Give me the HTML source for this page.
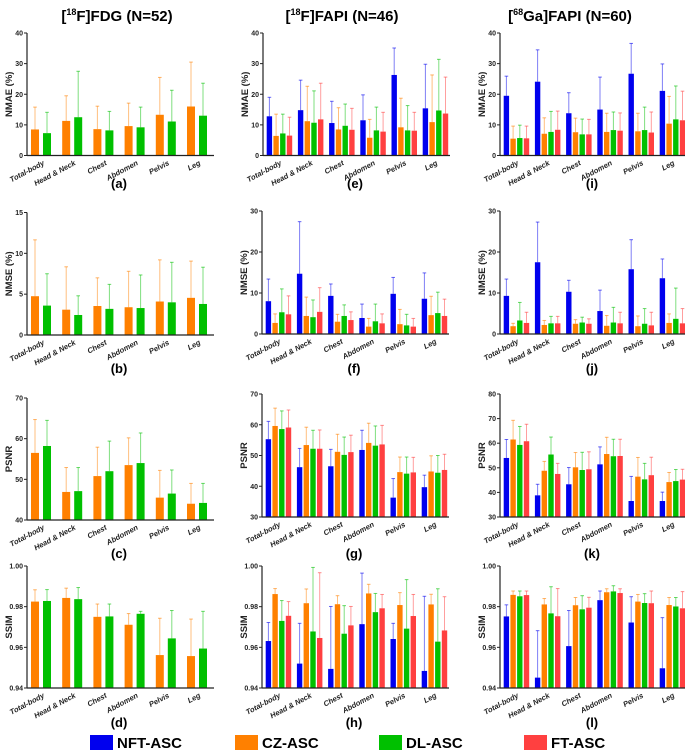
<!DOCTYPE html>
<html><head><meta charset="utf-8">
<style>
body{margin:0;background:#fff;}
svg{display:block;font-family:"Liberation Sans",Arial,sans-serif;}
</style></head>
<body>
<svg id="fig" width="685" height="751" viewBox="0 0 685 751" xmlns="http://www.w3.org/2000/svg">
<text x="117" y="21" text-anchor="middle" font-size="15" font-weight="bold">[<tspan font-size="9" dy="-6">18</tspan><tspan dy="6">F]FDG (N=52)</tspan></text>
<text x="342" y="21" text-anchor="middle" font-size="15" font-weight="bold">[<tspan font-size="9" dy="-6">18</tspan><tspan dy="6">F]FAPI (N=46)</tspan></text>
<text x="570" y="21" text-anchor="middle" font-size="15" font-weight="bold">[<tspan font-size="9" dy="-6">68</tspan><tspan dy="6">Ga]FAPI (N=60)</tspan></text>
<g>
<rect x="90" y="735" width="23" height="15" fill="#0000ee"/>
<text x="117" y="748" font-size="15" font-weight="bold">NFT-ASC</text>
<rect x="235" y="735" width="23" height="15" fill="#ff8000"/>
<text x="262" y="748" font-size="15" font-weight="bold">CZ-ASC</text>
<rect x="379" y="735" width="23" height="15" fill="#00c000"/>
<text x="406" y="748" font-size="15" font-weight="bold">DL-ASC</text>
<rect x="524" y="735" width="23" height="15" fill="#ff4040"/>
<text x="551" y="748" font-size="15" font-weight="bold">FT-ASC</text>
</g>
</svg>
<script>
const categories = ["Total-body","Head & Neck","Chest","Abdomen","Pelvis","Leg"];
const seriesColors = {nft:"#0000ee", cz:"#ff8000", dl:"#00c000", ft:"#ff4040"};
// values per panel: arrays in series order; each array of 6 (means) and matching error tops
const aCz=[8.5,11.3,8.6,9.6,13.3,16.0], aCzE=[15.8,19.5,16.1,17.1,25.5,30.5];
const aDl=[7.3,12.5,8.2,9.2,11.1,13.0], aDlE=[14.1,27.5,14.4,15.8,21.3,23.6];
const eNft=[12.8,14.8,10.6,11.5,26.3,15.4], eNftE=[19,24.6,17.7,19.8,35.1,29.8];
const eCz=[6.4,11.2,8.5,5.8,9.2,10.9], eCzE=[13.5,22.6,15.6,11.8,18.7,26.3];
const eDl=[7.2,10.7,9.7,8.2,8.2,14.7], eDlE=[13.5,21.1,16.8,15.8,16.3,31.4];
const eFt=[6.5,11.8,8.4,7.8,8.1,13.7], eFtE=[12.5,23.6,15.4,14.1,14.1,25.6];
const iNft=[19.5,24.1,13.8,15.0,26.7,21.1], iNftE=[25.9,34.5,20.5,25.6,36.6,29.9];
const iCz=[5.5,7.1,7.6,7.7,7.9,10.4], iCzE=[9.6,12.3,12.2,13.8,13.8,19.3];
const iDl=[5.7,7.7,6.9,8.3,8.3,11.8], iDlE=[9.9,14.4,11.9,14.2,15.8,22.7];
const iFt=[5.6,8.4,6.9,8.1,7.5,11.5], iFtE=[9.6,14.5,11.8,13.9,14.2,21.0];
const bCz=[4.75,3.1,3.55,3.4,4.1,4.55], bCzE=[11.65,8.35,7.0,7.8,9.2,9.05];
const bDl=[3.6,2.45,3.2,3.3,4.0,3.8], bDlE=[7.5,4.8,6.2,7.35,8.9,8.3];
const fNft=[8.0,14.7,9.3,3.9,9.8,8.6], fNftE=[13.4,27.4,12.2,7.3,13.8,14.9];
const fCz=[2.7,4.4,3.0,1.8,2.4,4.6], fCzE=[4.9,9.0,4.8,3.8,6.0,9.2];
const fDl=[5.3,4.1,4.4,3.1,2.1,5.1], fDlE=[11.0,8.3,7.1,7.3,4.8,10.2];
const fFt=[4.8,5.4,3.4,2.6,1.8,4.4], fFtE=[9.3,11.3,5.4,4.9,3.8,8.5];
const jNft=[9.3,17.5,10.3,5.6,15.8,13.6], jNftE=[13.4,27.3,13.1,10.7,23.0,18.3];
const jCz=[1.9,2.2,2.5,2.0,1.9,2.7], jCzE=[2.6,3.3,3.5,4.5,4.4,4.9];
const jDl=[3.3,2.6,2.8,2.8,2.5,3.7], jDlE=[7.7,4.3,4.1,6.5,6.2,11.2];
const jFt=[2.7,2.6,2.5,2.6,2.1,2.6], jFtE=[5.3,4.3,3.7,5.3,5.3,6.2];
const cCz=[56.5,46.9,50.8,53.5,45.5,44.0], cCzE=[64.7,52.9,57.9,60.2,52.2,49.0];
const cDl=[58.2,47.1,52.0,54.0,46.5,44.2], cDlE=[64.5,52.9,59.4,61.4,52.3,49.0];
const gNft=[55.3,46.2,46.5,51.8,36.3,39.7], gNftE=[61.1,52.3,52.0,58.2,42.5,43.6];
const gCz=[59.6,53.4,51.2,54.1,44.6,44.8], gCzE=[65.4,59.2,56.9,60.5,49.5,49.9];
const gDl=[58.6,52.2,50.2,53.2,44.1,44.4], gDlE=[64.5,58.2,56.0,59.6,49.5,50.0];
const gFt=[59.1,52.2,51.1,53.6,44.5,45.3], gFtE=[64.8,58.3,56.6,59.8,49.4,50.4];
const kNft=[54.0,38.8,43.3,51.4,36.5,36.5], kNftE=[61.5,43.3,50.1,58.5,46.5,40.1];
const kCz=[61.5,48.8,50.2,55.6,46.4,44.2], kCzE=[69.3,52.6,56.2,62.4,54.2,48.1];
const kDl=[59.3,55.4,49.1,54.7,45.3,44.6], kDlE=[66.8,62.5,56.3,61.6,51.8,49.3];
const kFt=[60.8,47.5,49.4,54.8,47.0,45.2], kFtE=[67.7,51.8,56.5,61.6,54.3,49.4];
const dCz=[0.9825,0.9843,0.9750,0.9711,0.9562,0.9557], dCzE=[0.9883,0.9891,0.9813,0.9766,0.9743,0.9739];
const dDl=[0.9828,0.9837,0.9752,0.9765,0.9644,0.9594], dDlE=[0.9884,0.9894,0.9813,0.9777,0.9781,0.9777];
const hNft=[0.9631,0.9520,0.9494,0.9714,0.9641,0.9484], hNftE=[0.9722,0.9718,0.9801,0.9965,0.9718,0.9851];
const hCz=[0.9862,0.9817,0.9812,0.9865,0.9808,0.9811], hCzE=[0.9889,0.9887,0.9854,0.9910,0.9869,0.9861];
const hDl=[0.9730,0.9678,0.9667,0.9773,0.9692,0.9628], hDlE=[0.9830,0.9993,0.9805,0.9865,0.9933,0.9888];
const hFt=[0.9755,0.9646,0.9708,0.9792,0.9754,0.9683], hFtE=[0.9825,0.9967,0.9801,0.9860,0.9860,0.9849];
const lNft=[0.9752,0.9451,0.9606,0.9832,0.9722,0.9497], lNftE=[0.9809,0.9682,0.9781,0.9877,0.9849,0.9746];
const lCz=[0.9858,0.9811,0.9807,0.9871,0.9825,0.9808], lCzE=[0.9877,0.9840,0.9845,0.9888,0.9860,0.9845];
const lDl=[0.9851,0.9767,0.9787,0.9875,0.9818,0.9801], lDlE=[0.9877,0.9898,0.9854,0.9903,0.9864,0.9845];
const lFt=[0.9857,0.9753,0.9795,0.9867,0.9817,0.9792], lFtE=[0.9877,0.9889,0.9846,0.9888,0.9877,0.9874];
const ticks40=["0","10","20","30","40"], ticks15=["0","5","10","15"], ticks30=["0","10","20","30"];
const ticksC=["40","50","60","70"], ticksG=["30","40","50","60","70"], ticksK=["30","40","50","60","70","80"];
const ticksS=["0.94","0.96","0.98","1.00"];

const NS="http://www.w3.org/2000/svg";
const svg=document.getElementById('fig');
function mk(tag,attrs,parent){const e=document.createElementNS(NS,tag);for(const k in attrs)e.setAttribute(k,attrs[k]);(parent||svg).appendChild(e);return e;}

const panels=[
 {id:"a",x0:27,top:33,bot:155.5,min:0,max:40,ticks:ticks40,lab:"NMAE (%)",ly:188,s:[["cz",aCz,aCzE],["dl",aDl,aDlE]]},
 {id:"e",x0:263,top:33,bot:155.5,min:0,max:40,ticks:ticks40,lab:"NMAE (%)",ly:188,s:[["nft",eNft,eNftE],["cz",eCz,eCzE],["dl",eDl,eDlE],["ft",eFt,eFtE]]},
 {id:"i",x0:500,top:33,bot:155.5,min:0,max:40,ticks:ticks40,lab:"NMAE (%)",ly:188,s:[["nft",iNft,iNftE],["cz",iCz,iCzE],["dl",iDl,iDlE],["ft",iFt,iFtE]]},
 {id:"b",x0:27,top:212.5,bot:335,min:0,max:15,ticks:ticks15,lab:"NMSE (%)",ly:373,s:[["cz",bCz,bCzE],["dl",bDl,bDlE]]},
 {id:"f",x0:262,top:211,bot:334,min:0,max:30,ticks:ticks30,lab:"NMSE (%)",ly:373,s:[["nft",fNft,fNftE],["cz",fCz,fCzE],["dl",fDl,fDlE],["ft",fFt,fFtE]]},
 {id:"j",x0:500,top:211,bot:334,min:0,max:30,ticks:ticks30,lab:"NMSE (%)",ly:373,s:[["nft",jNft,jNftE],["cz",jCz,jCzE],["dl",jDl,jDlE],["ft",jFt,jFtE]]},
 {id:"c",x0:27,top:398,bot:520,min:40,max:70,ticks:ticksC,lab:"PSNR",ly:558,s:[["cz",cCz,cCzE],["dl",cDl,cDlE]]},
 {id:"g",x0:262,top:394,bot:517,min:30,max:70,ticks:ticksG,lab:"PSNR",ly:558,s:[["nft",gNft,gNftE],["cz",gCz,gCzE],["dl",gDl,gDlE],["ft",gFt,gFtE]]},
 {id:"k",x0:500,top:394,bot:517,min:30,max:80,ticks:ticksK,lab:"PSNR",ly:558,s:[["nft",kNft,kNftE],["cz",kCz,kCzE],["dl",kDl,kDlE],["ft",kFt,kFtE]]},
 {id:"d",x0:27,top:566,bot:688,min:0.94,max:1.0,ticks:ticksS,lab:"SSIM",ly:727,s:[["cz",dCz,dCzE],["dl",dDl,dDlE]]},
 {id:"h",x0:262,top:566,bot:688,min:0.94,max:1.0,ticks:ticksS,lab:"SSIM",ly:727,s:[["nft",hNft,hNftE],["cz",hCz,hCzE],["dl",hDl,hDlE],["ft",hFt,hFtE]]},
 {id:"l",x0:500,top:566,bot:688,min:0.94,max:1.0,ticks:ticksS,lab:"SSIM",ly:727,s:[["nft",lNft,lNftE],["cz",lCz,lCzE],["dl",lDl,lDlE],["ft",lFt,lFtE]]}
];

panels.forEach(p=>{
  const g=mk('g',{});
  
  
  const y=v=>p.bot-(v-p.min)/(p.max-p.min)*(p.bot-p.top);
  const pitch=31.2, xEnd=p.x0+187;
  const n=p.s.length;
  const bp = n===4?6.7:12, bw = n===4?5.4:8, off = n===4?3.7:4;
  // bars
  p.s.forEach((ser,si)=>{
    const [key,vals,errs]=ser;
    const col=seriesColors[key];
    vals.forEach((v,ci)=>{
      const bx=p.x0+off+ci*pitch+si*bp;
      const cx=bx+bw/2;
      const el=mk('line',{x1:cx,x2:cx,y1:y(v),y2:y(errs[ci]),stroke:col,'stroke-opacity':0.5,'stroke-width':1},g);
      
      
      const cap=mk('line',{x1:cx-1.8,x2:cx+1.8,y1:y(errs[ci]),y2:y(errs[ci]),stroke:col,'stroke-opacity':0.6,'stroke-width':1},g);
      
      
      const r=mk('rect',{x:bx,y:y(v),width:bw,height:p.bot-y(v),fill:col},g);
      
      
    });
  });
  // axes
  const ya=mk('line',{x1:p.x0,x2:p.x0,y1:p.top,y2:p.bot,stroke:'#222','stroke-width':1.2},g);
  
  
  const xa=mk('line',{x1:p.x0,x2:xEnd,y1:p.bot,y2:p.bot,stroke:'#222','stroke-width':1.2},g);
  
  
  p.ticks.forEach(t=>{
    const ty=y(parseFloat(t));
    const tl=mk('line',{x1:p.x0-3,x2:p.x0,y1:ty,y2:ty,stroke:'#222','stroke-width':1},g);
    
    
    const tt=mk('text',{x:p.x0-4,y:ty+2.5,'text-anchor':'end','font-size':7,'font-weight':'bold',fill:'#222'},g);
    tt.textContent=t;
    
    
  });
  categories.forEach((c,ci)=>{
    const gx=p.x0+off+ci*pitch+(n*bp)/2+2;
    const ct=mk('text',{x:gx,y:p.bot+9,'text-anchor':'end','font-size':7.5,'font-weight':'bold','font-style':'italic',fill:'#222',transform:`rotate(-28 ${gx} ${p.bot+9})`},g);
    ct.textContent=c;
    
    
  });
  const yl=mk('text',{x:0,y:0,'text-anchor':'middle','font-size':9.5,'font-weight':'bold',fill:'#222',transform:`translate(${p.x0-15},${(p.top+p.bot)/2}) rotate(-90)`},g);
  yl.textContent=p.lab;
  
  
  const pl=mk('text',{x:p.x0+92,y:p.ly,'text-anchor':'middle','font-size':13,'font-weight':'bold'},g);
  pl.textContent='('+p.id+')';
  
  
});
</script>
</body></html>
